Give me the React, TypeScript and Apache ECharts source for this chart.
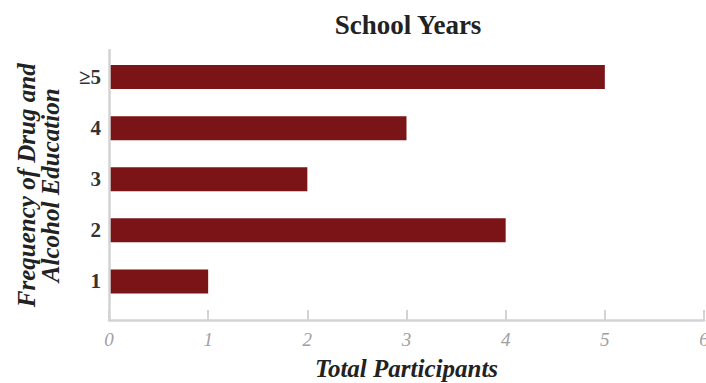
import React, { useEffect, useRef } from "react";
import * as echarts from "echarts";

const title = "School Years";
const categories = ["1", "2", "3", "4", "≥5"];
const values = [1, 4, 2, 3, 5];
const xTicks = { min: 0, max: 6, interval: 1 };
const xName = "Total Participants";
const yName = "Frequency of Drug and\nAlcohol Education";

const FONT = "'Liberation Serif', 'DejaVu Serif', serif";

export default function App() {
  const ref = useRef<HTMLDivElement>(null);
  useEffect(() => {
    const chart = echarts.init(ref.current!, null, { renderer: "svg" });
    chart.setOption({
      animation: false,
      title: {
        text: title,
        left: 403,
        top: 6,
        textAlign: "center",
        textStyle: { fontFamily: FONT, fontWeight: "bold", fontSize: 27, color: "#222" },
      },
      grid: { left: 109, right: 2, top: 51.5, bottom: 383 - 307, containLabel: false, outerBoundsMode: "none" },
      xAxis: {
        type: "value",
        min: xTicks.min,
        max: xTicks.max,
        interval: xTicks.interval,
        offset: 13,
        name: xName,
        nameLocation: "middle",
        nameGap: 36,
        nameTextStyle: { fontFamily: FONT, fontWeight: "bold", fontStyle: "italic", fontSize: 25, color: "#222" },
        axisLine: { show: true, lineStyle: { color: "#d3d3d3", width: 2.5 } },
        axisTick: { show: true, inside: true, length: 10, lineStyle: { color: "#d3d3d3", width: 2 } },
        axisLabel: { fontFamily: FONT, fontStyle: "italic", fontSize: 19, color: "#a0a0a0", margin: 10 },
        splitLine: { show: false },
      },
      yAxis: {
        type: "category",
        data: categories,
        name: yName,
        nameLocation: "middle",
        nameRotate: 90,
        nameGap: 47,
        nameTextStyle: {
          fontFamily: FONT,
          fontWeight: "bold",
          fontStyle: "italic",
          fontSize: 25,
          color: "#222",
          lineHeight: 24,
          padding: [0, 12, 0, 0],
        },
        axisLine: { show: false },
        axisTick: { show: false },
        axisLabel: { fontFamily: FONT, fontWeight: "bold", fontSize: 21, color: "#333", margin: 8 },
      },
      graphic: [
        {
          type: "line",
          shape: { x1: 109.5, y1: 49, x2: 109.5, y2: 321 },
          style: { stroke: "#d3d3d3", lineWidth: 2.5 },
          z: 10,
        },
      ],
      series: [
        {
          type: "bar",
          data: values,
          barWidth: 24,
          itemStyle: { color: "#7a1416" },
        },
      ],
    });
    return () => chart.dispose();
  }, []);
  return <div ref={ref} style={{ width: 706, height: 383, position: "absolute", left: 0, top: 0 }} />;
}
